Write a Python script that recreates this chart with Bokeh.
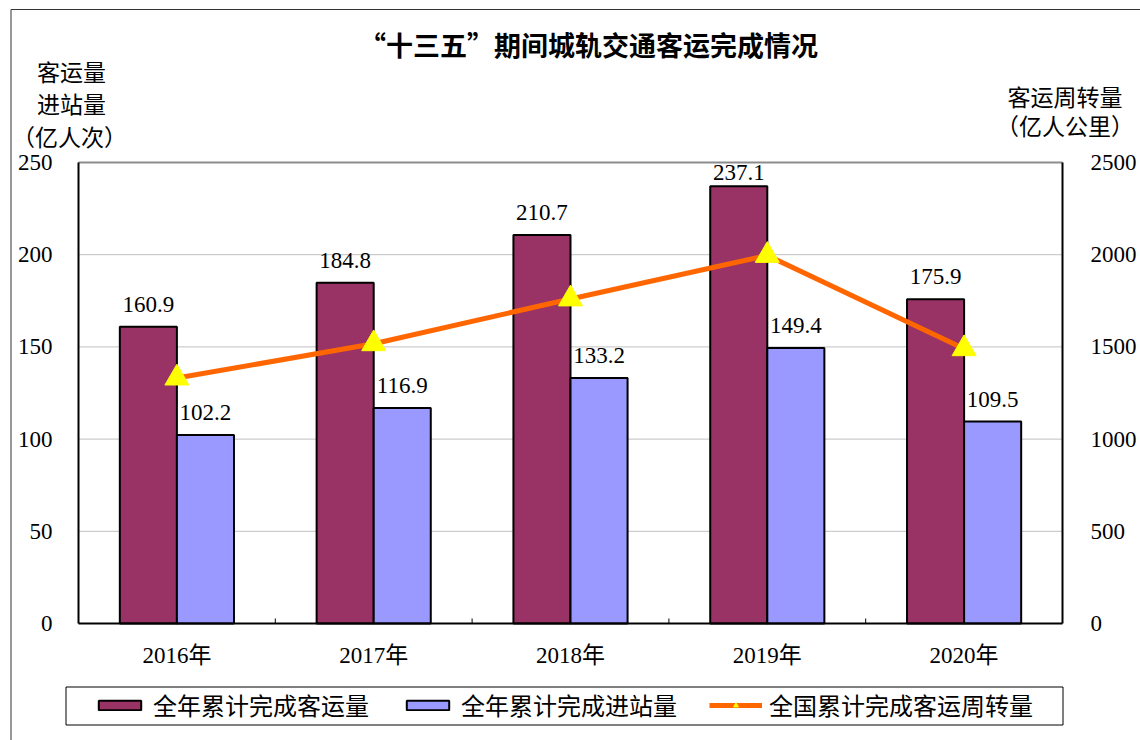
from bokeh.plotting import figure
from bokeh.models import (FactorRange, Range1d, LinearAxis, CategoricalAxis, ColumnDataSource,
                          LabelSet, Label, Legend, LegendItem, FixedTicker)
from bokeh.transform import dodge
from bokeh.embed import file_html
from bokeh.resources import INLINE

years = ["2016年", "2017年", "2018年", "2019年", "2020年"]
passenger = [160.9, 184.8, 210.7, 237.1, 175.9]      # 全年累计完成客运量
entries = [102.2, 116.9, 133.2, 149.4, 109.5]        # 全年累计完成进站量
turnover = [1331, 1517, 1760, 1996, 1490]            # 全国累计完成客运周转量
left_ticks = [0, 50, 100, 150, 200, 250]
right_ticks = [0, 500, 1000, 1500, 2000, 2500]

FONT = "'Liberation Serif', 'Noto Sans CJK SC'"
CJK = "'Noto Sans CJK SC'"

n = len(years)
LMAX = left_ticks[-1]
RMAX = right_ticks[-1]
K = RMAX / LMAX

# ---- layout (pixels): chart area spans x 78..1062, y 162..623 of a 1140x740 canvas
W, H = 1140, 740
PX_X = (1062 - 78) / n          # px per category
PX_Y = (623 - 162) / LMAX       # px per left-axis unit
PAD = 78 / PX_X
Y1 = LMAX + 162 / PX_Y
Y0 = -(H - 623) / PX_Y

p = figure(width=W, height=H,
           x_range=FactorRange(*years, range_padding=PAD, range_padding_units="absolute"),
           y_range=Range1d(Y0, Y1), output_backend="svg", toolbar_location=None,
           x_axis_location=None, y_axis_location=None, min_border=0)
p.extra_y_ranges = {"r": Range1d(Y0 * K, Y1 * K)}
p.outline_line_color = None
p.xgrid.grid_line_color = None
p.ygrid.grid_line_color = None

def sx(px):  # page px -> x data
    return (px - 78) / PX_X

def sy(py):  # page px -> left y data
    return LMAX + (162 - py) / PX_Y

# page border (left & top)
p.segment(x0=[sx(10.5), sx(10.5)], x1=[sx(10.5), sx(W + 5)], y0=[Y0, sy(9)], y1=[sy(9), sy(9)],
          line_color="#333333", line_width=1)
# legend frame
p.quad(left=[sx(65.5)], right=[sx(1062.5)], top=[sy(686.5)], bottom=[sy(724.5)],
       fill_color="white", line_color="black", line_width=1)

src = ColumnDataSource(dict(
    x=years, a=passenger, b=entries, c=turnover,
    at=[f"{v:.1f}" for v in passenger], bt=[f"{v:.1f}" for v in entries],
    ao=[min(15, (LMAX - v) * PX_Y - 17) for v in passenger],
    bo=[min(15, (LMAX - v) * PX_Y - 17) for v in entries]))

# horizontal grid lines inside the chart area
inner = left_ticks[1:-1]
gsrc = ColumnDataSource(dict(x0=[0] * len(inner), x1=[n] * len(inner), y=inner))
p.segment(x0="x0", x1="x1", y0="y", y1="y", source=gsrc, line_color="#c0c0c0", line_width=1)
p.segment(x0=[0], x1=[n], y0=[LMAX], y1=[LMAX], line_color="#8c8c8c", line_width=2)
# small inward ticks at category boundaries
bnd = list(range(1, n))
p.segment(x0=bnd, x1=bnd, y0=[0] * len(bnd), y1=[5 / PX_Y] * len(bnd),
          line_color="black", line_width=1)

def style_axis(ax, standoff):
    ax.axis_line_color = "black"
    ax.axis_line_width = 2
    ax.major_tick_line_color = None
    ax.minor_tick_line_color = None
    ax.major_label_text_font = FONT
    ax.major_label_text_font_size = "23px"
    ax.major_label_text_color = "black"
    ax.major_label_standoff = standoff

lax = LinearAxis(ticker=FixedTicker(ticks=left_ticks), fixed_location=0, bounds=(0, LMAX))
style_axis(lax, 20)
p.add_layout(lax, "left")

rax = LinearAxis(y_range_name="r", ticker=FixedTicker(ticks=right_ticks), fixed_location=n,
                 bounds=(0, RMAX))
style_axis(rax, 22)
p.add_layout(rax, "right")

xax = CategoricalAxis(fixed_location=0, bounds=(0, n))
style_axis(xax, 13)
p.add_layout(xax, "below")

r1 = p.vbar(x=dodge("x", -0.145, range=p.x_range), top="a", width=0.29, source=src,
            fill_color="#993366", line_color="black", line_width=2)
r2 = p.vbar(x=dodge("x", 0.145, range=p.x_range), top="b", width=0.29, source=src,
            fill_color="#9999FF", line_color="black", line_width=2)
r3 = p.line(x="x", y="c", source=src, y_range_name="r", line_color="#FF6600", line_width=5)
r4 = p.scatter(x="x", y="c", source=src, y_range_name="r", marker="triangle", size=24,
               fill_color="#FFFF00", line_color="#FFFF00")

for col, txt, off, yo in [("a", "at", -0.145, "ao"), ("b", "bt", 0.145, "bo")]:
    p.add_layout(LabelSet(x=dodge("x", off, range=p.x_range), y=col, text=txt, source=src,
                          y_offset=yo, text_align="center", text_baseline="bottom",
                          text_font=FONT, text_font_size="23px", text_color="black"))

def lab(x, y, t, size="23px", style="normal", font=FONT):
    p.add_layout(Label(x=x, y=y, text=t, text_font=font, text_font_size=size,
                       text_font_style=style, text_align="center", text_baseline="middle",
                       text_color="black"))

lab(sx(588), sy(44), "“十三五”期间城轨交通客运完成情况", size="27px", style="bold", font=CJK)
lab(sx(71), sy(72.5), "客运量")
lab(sx(71), sy(105), "进站量")
lab(sx(69), sy(138), "（亿人次）")
lab(sx(1064.5), sy(98), "客运周转量")
lab(sx(1064.5), sy(127), "（亿人公里）")

legend = Legend(items=[
    LegendItem(label="全年累计完成客运量", renderers=[r1]),
    LegendItem(label="全年累计完成进站量", renderers=[r2]),
    LegendItem(label="全国累计完成客运周转量", renderers=[r3, r4]),
], orientation="horizontal", location=(93, 18))
legend.label_text_font = FONT
legend.label_text_font_size = "24px"
legend.label_text_color = "black"
legend.glyph_width = 53
legend.glyph_height = 12
legend.label_standoff = 7
legend.spacing = 32
legend.padding = 8
legend.margin = 0
legend.border_line_color = None
legend.background_fill_alpha = 0
p.add_layout(legend)

open("out.html", "w").write(file_html(p, INLINE))
